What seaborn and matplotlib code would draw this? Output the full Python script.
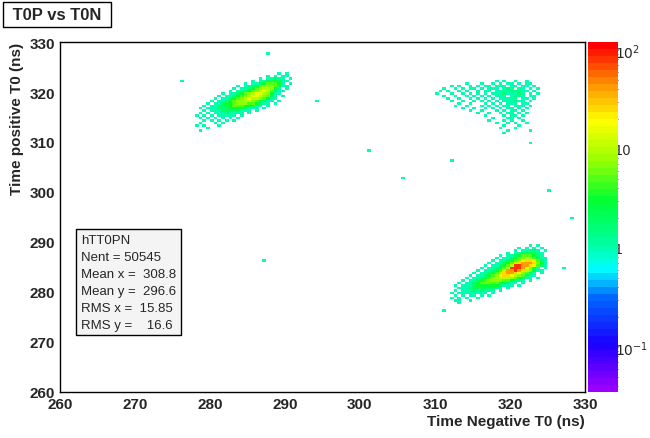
import numpy as np
import pandas as pd
import seaborn as sns
import matplotlib
matplotlib.use("Agg")
import matplotlib.pyplot as plt
from matplotlib.colors import LogNorm, LinearSegmentedColormap

# ---- data: cell count grids (0.5 ns cells), level codes -> counts ----
level_counts = {'0': 0, '1': 1, '2': 2, '3': 3, '4': 5, '5': 7, '6': 10,
                '7': 15, '8': 25, '9': 45, 'a': 80}

# cluster A: x from 278.0, y top edge 324.0
clusterA_x0, clusterA_ytop = 278.0, 324.0
clusterA_rows = [
    "00000000000000000000001010",
    "00000000000000000001010110",
    "00000000000000000101121101",
    "00000000000000010112232110",
    "00000000000001011234443101",
    "00000000000101123455542110",
    "00000000001011234566531010",
    "00000000010112345676421100",
    "00000001011234567765311000",
    "00000010112345677654210100",
    "00000101123456766543110000",
    "00001011234556654321101000",
    "00010112334555443211010000",
    "00101122334443321101000000",
    "01011122233332111010000000",
    "00101112222211101000000000",
    "01010111211110100000000000",
    "10101011111010000000000000",
    "01010101010100000000000000",
    "00101010101000000000000000",
    "01000101000000000000000000",
    "10100010000000000000000000",
    "00010000000000000000000000",
    "01000000000000000000000000",
]
# cluster B: x from 312.0, y top edge 289.5
clusterB_x0, clusterB_ytop = 312.0, 289.5
clusterB_rows = [
    "00000000000000000000010100",
    "00000000000000000010101010",
    "00000000000000000101112101",
    "00000000000000010112222110",
    "00000000000001011234443210",
    "00000000000010112345654311",
    "00000000000101123457887421",
    "00000000001011234689998531",
    "00000000010112346aa9987421",
    "0000000010112346aaa9753101",
    "00000001011234699a98653110",
    "00000010112346899875421010",
    "00000101123457887654211000",
    "00001011234566665432110100",
    "00010112345555443211010000",
    "00101123444443321101000000",
    "01011123333332111010000000",
    "00111222222211010000000000",
    "01011121211101000000000000",
    "10111111110100000000000000",
    "01010110101000000000000000",
    "10101001000000000000000000",
    "01000100000000000000000000",
    "00100000000000000000000000",
]
# cluster C (diffuse): x from 309.0, y top edge 322.5
clusterC_x0, clusterC_ytop = 309.0, 322.5
clusterC_rows = [
    "00000000000000000010100100100000",
    "00000000001000100101011010110000",
    "00000010100101011011101101101000",
    "00001001010110101110121011010100",
    "00010100101001011011112211101000",
    "00100010010101010111211121010100",
    "00001001001010101011101211011000",
    "00000100100101010101111101101000",
    "00000010010010101010111211010000",
    "00000000100100010101011101100000",
    "00000001001000101010110111010000",
    "00000000010010010101011010100000",
    "00000000000100100010101101000000",
    "00000000000001001001011010100000",
    "00000000000000010000101101000000",
    "00000000000000000100011010000000",
    "00000000000000001000101001000000",
    "00000000000000000010010100100000",
    "00000000000000000000100010000000",
    "00000000000000000001000100000000",
    "00000000000000000000010000010000",
    "00000000000000000000100000000000",
]
# isolated single entries
stray_x = [305.6, 312.2, 325.3, 328.2, 311.1, 287.2, 294.1, 313.4, 301.3, 287.6, 276.4, 322.7, 327.1]
stray_y = [302.6, 306.1, 300.2, 294.6, 276.3, 286.2, 318.2, 278.1, 308.4, 327.6, 322.1, 309.7, 284.9]

cell = 0.5
xs, ys, ws = [], [], []
for x0, ytop, rows in [(clusterA_x0, clusterA_ytop, clusterA_rows),
                       (clusterB_x0, clusterB_ytop, clusterB_rows),
                       (clusterC_x0, clusterC_ytop, clusterC_rows)]:
    for r, row in enumerate(rows):
        for c, ch in enumerate(row):
            v = level_counts[ch]
            if v > 0:
                xs.append(x0 + cell * c + cell / 2)
                ys.append(ytop - cell * r - cell / 2)
                ws.append(v)
xs += stray_x
ys += stray_y
ws += [1] * len(stray_x)
df = pd.DataFrame({"x": xs, "y": ys, "w": ws})

# ---- figure ----
sns.set_style("white")
plt.rcParams['font.family'] = ['Liberation Sans', 'DejaVu Sans']
fig = plt.figure(figsize=(6.5, 4.39), dpi=100)
fig.patch.set_facecolor("white")
ax = fig.add_axes([0.092, 0.105, 0.808, 0.797])
cax = fig.add_axes([0.905, 0.105, 0.046, 0.797])

vmin, vmax = 0.035, 120.0
lo, hi = np.log10(vmin), np.log10(vmax)
def pos(v):
    return (np.log10(v) - lo) / (hi - lo)
nodes = [(0.035, "#9900ff"), (0.1, "#1a00ff"), (0.3, "#0066ff"), (0.6, "#00ffff"),
         (1.0, "#00ffaa"), (3.0, "#00ff33"), (8.0, "#99ff00"), (20.0, "#ffff00"),
         (45.0, "#ff9900"), (120.0, "#ff0000")]
cmap = LinearSegmentedColormap.from_list(
    "root", [(min(1.0, max(0.0, pos(v))), c) for v, c in nodes], N=50)
norm = LogNorm(vmin=vmin, vmax=vmax)

xbins = np.arange(260, 330.001, cell)
ybins = np.arange(260, 330.001, cell)
sns.histplot(data=df, x="x", y="y", weights="w", bins=[xbins, ybins],
             cmap=cmap, ax=ax, cbar=False)
mesh = ax.collections[0]
mesh.set_cmap(cmap)
mesh.set_norm(norm)

cb = fig.colorbar(mesh, cax=cax)
cb.outline.set_visible(False)
cb.set_ticks([0.1, 1, 10, 100])
cb.set_ticklabels(["$10^{-1}$", "1", "10", "$10^{2}$"])
cax.tick_params(labelsize=10, direction="in", length=8, pad=-2)
cax.minorticks_on()
cax.tick_params(which="minor", direction="in", length=4)

ax.set_xlim(260, 330)
ax.set_ylim(260, 330)
ax.set_xticks(np.arange(260, 331, 10))
ax.set_yticks(np.arange(260, 331, 10))
ax.set_xticks(np.arange(260, 331, 2), minor=True)
ax.set_yticks(np.arange(260, 331, 2), minor=True)
ax.tick_params(which="major", direction="in", length=8, labelsize=11,
               top=False, right=False)
ax.tick_params(which="minor", direction="in", length=4, top=False, right=False)
for lab in ax.get_xticklabels() + ax.get_yticklabels():
    lab.set_fontweight("bold")
for s in ax.spines.values():
    s.set_color("black")
    s.set_linewidth(1)
ax.set_xlabel("Time Negative T0 (ns)", fontsize=11, fontweight="bold", loc="right", labelpad=2)
ax.set_ylabel("Time positive T0 (ns)", fontsize=11, fontweight="bold", loc="top", labelpad=4)

stats = ("hTT0PN\nNent = 50545\nMean x =  308.8\nMean y =  296.6\n"
         "RMS x =  15.85\nRMS y =    16.6")
ax.text(0.04, 0.175, stats, transform=ax.transAxes, fontsize=9.5,
        va="bottom", ha="left", linespacing=1.55,
        bbox=dict(boxstyle="square,pad=0.35", fc="#f4f4f4", ec="black", lw=1))

fig.text(0.012, 0.965, " T0P vs T0N ", fontsize=12, fontweight="bold",
         va="center", ha="left",
         bbox=dict(boxstyle="square,pad=0.3", fc="white", ec="black", lw=1))

fig.savefig("out.png", dpi=100, facecolor="white")
